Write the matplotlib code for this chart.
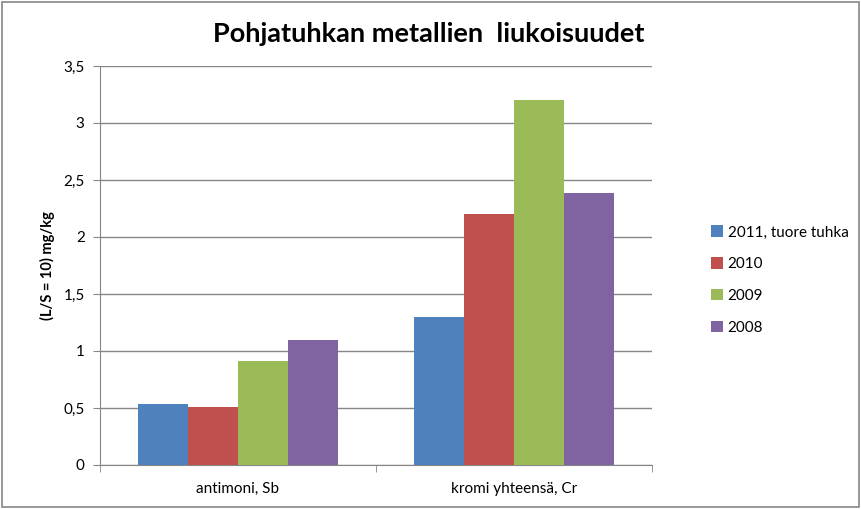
import matplotlib.pyplot as plt
import numpy as np
from matplotlib.patches import Rectangle
from matplotlib.ticker import FuncFormatter

plt.rcParams['font.family'] = ['Lato', 'DejaVu Sans']

# data
categories = ['antimoni, Sb', 'kromi yhteensä, Cr']
series_names = ['2011, tuore tuhka', '2010', '2009', '2008']
values = {
    '2011, tuore tuhka': [0.535, 1.30],
    '2010': [0.505, 2.20],
    '2009': [0.91, 3.20],
    '2008': [1.095, 2.39],
}
colors = ['#4F81BD', '#C0504D', '#9BBB59', '#8064A2']

fig = plt.figure(figsize=(8.61, 5.09), dpi=100)
ax = fig.add_axes([100 / 861, 1 - 465 / 509, 552 / 861, 399 / 509])

x = np.arange(len(categories))
w = 0.181
for i, name in enumerate(series_names):
    ax.bar(x + (i - 1.5) * w, values[name], width=w, color=colors[i],
           label=name, zorder=3)

ax.set_xlim(-0.5, 1.5)
ax.set_ylim(0, 3.5)
ax.set_yticks(np.arange(0, 3.51, 0.5))
ax.yaxis.set_major_formatter(FuncFormatter(lambda v, p: ('%g' % v).replace('.', ',')))
ax.grid(axis='y', color='#868686', linewidth=1, zorder=0)
ax.set_xticks(x)
ax.set_xticklabels(categories, fontsize=11)
ax.set_xticks([-0.5, 0.5, 1.5], minor=True)
ax.tick_params(axis='x', which='major', length=0, pad=12)
ax.tick_params(axis='x', which='minor', length=5, color='#868686', direction='out')
ax.tick_params(axis='y', length=5, color='#868686', labelsize=11, pad=6)
for s in ['top', 'right']:
    ax.spines[s].set_visible(False)
for s in ['left', 'bottom']:
    ax.spines[s].set_color('#868686')

ax.set_ylabel('(L/S = 10) mg/kg', fontsize=10.5, fontweight='bold', labelpad=6)
fig.text(429 / 861, 1 - 34 / 509, 'Pohjatuhkan metallien  liukoisuudet',
         ha='center', va='center', fontsize=19.5, fontweight='bold')

ax.legend(loc='center left', bbox_to_anchor=(697 / 861, 1 - 280 / 509),
          bbox_transform=fig.transFigure, frameon=False, fontsize=11,
          handlelength=0.8, handleheight=0.8, handletextpad=0.3,
          labelspacing=1.15)

fig.patches.append(Rectangle((0.002, 0.003), 0.996, 0.994, transform=fig.transFigure,
                             fill=False, edgecolor='#868686', linewidth=1.2))

fig.savefig('out.png', dpi=100)
